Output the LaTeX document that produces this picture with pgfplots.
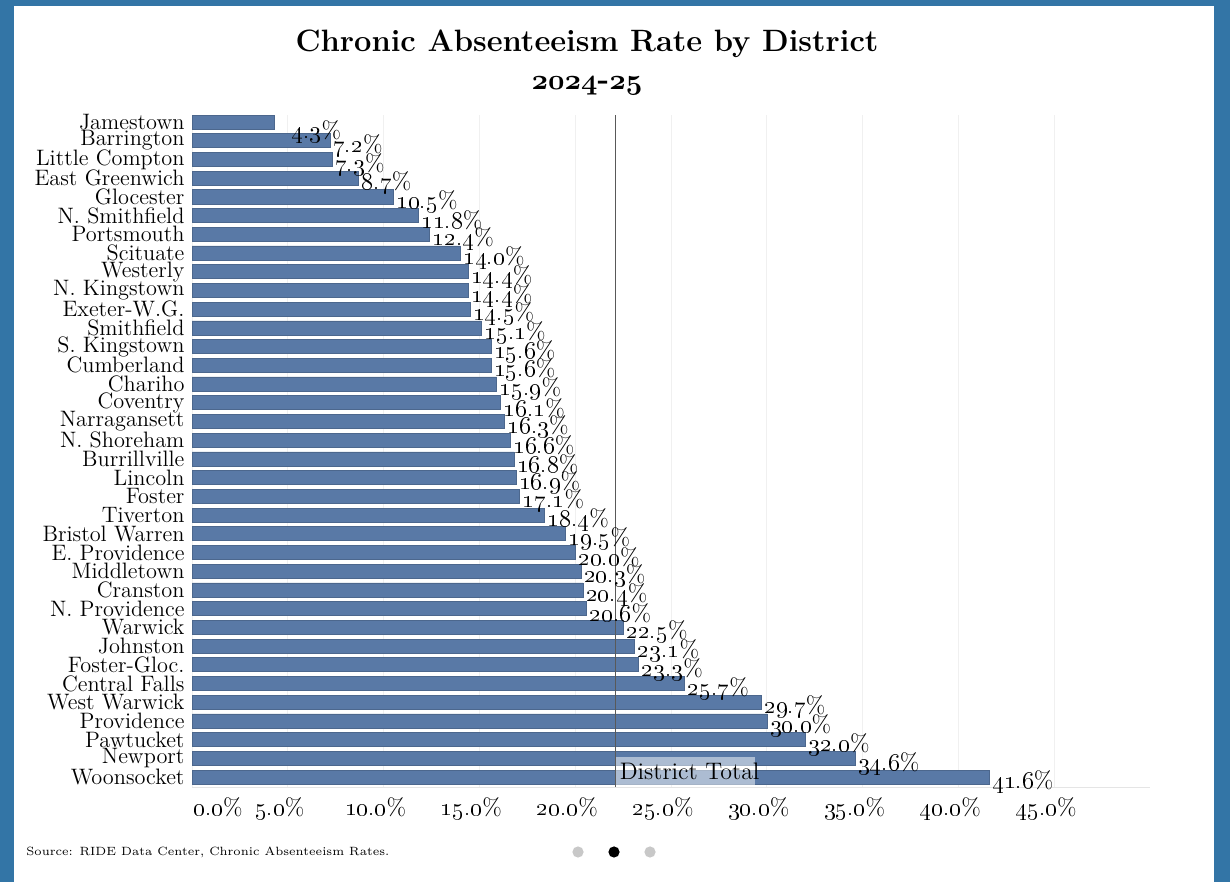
\documentclass[border=0pt]{standalone}
\usepackage{pgfplots}
\pgfplotsset{compat=1.18}
\definecolor{frameBlue}{RGB}{51,117,166}
\definecolor{barBlue}{RGB}{89,121,166}
\definecolor{dotGray}{RGB}{200,200,200}

\newcommand{\osn}[1]{\oldstylenums{#1}\%}
\newcommand{\bosn}[1]{{\usefont{OML}{cmm}{b}{it}#1}}

\begin{document}
\begin{tikzpicture}
    % frame of the card
    \fill[frameBlue] (0,0) rectangle (615bp,441bp);
    \fill[white] (7bp,0) rectangle (607bp,438bp);

    \node[font=\fontsize{15.5}{18}\selectfont\bfseries] at (293.5bp,419bp) {Chronic Absenteeism Rate by District};
    \node[font=\fontsize{15.5}{18}\selectfont\bfseries] at (293.5bp,398bp) {\bosn{2024}-\bosn{25}};

    \begin{axis}[
        at={(96bp,47.5bp)},
        anchor=south west,
        scale only axis,
        width=479bp,
        height=336bp,
        xbar,
        bar width=0.75,
        bar shift=0pt,
        xmin=0, xmax=50,
        ymin=-0.37, ymax=35.53,
        y dir=reverse,
        ytick={0,...,35},
        yticklabels={Jamestown, Barrington, Little Compton, East Greenwich, Glocester,
            N. Smithfield, Portsmouth, Scituate, Westerly, N. Kingstown, Exeter-W.G.,
            Smithfield, S. Kingstown, Cumberland, Chariho, Coventry, Narragansett,
            N. Shoreham, Burrillville, Lincoln, Foster, Tiverton, Bristol Warren,
            E. Providence, Middletown, Cranston, N. Providence, Warwick, Johnston,
            Foster-Gloc., Central Falls, West Warwick, Providence, Pawtucket,
            Newport, Woonsocket},
        xtick={0,5,...,45},
        xticklabels={\hspace*{34bp}\osn{0.0}, \osn{5.0}, \osn{10.0}, \osn{15.0},
            \osn{20.0}, \osn{25.0}, \osn{30.0}, \osn{35.0}, \osn{40.0}, \osn{45.0}},
        xticklabel style={font=\fontsize{12}{12}\selectfont, xshift=-4bp, yshift=-2bp},
        yticklabel style={font=\fontsize{11.2}{12}\selectfont},
        yticklabel shift=-4bp,
        tick style={draw=none},
        xmajorgrids=true,
        grid style={gray!12},
        axis x line*=bottom,
        axis y line*=left,
        x axis line style={gray!20},
        y axis line style={draw=none},
        clip=false,
        point meta=explicit symbolic,
        nodes near coords={\osn{\pgfplotspointmeta}},
        nodes near coords style={font=\fontsize{12}{12}\selectfont, anchor=west,
            inner sep=1bp, xshift=0.5bp, yshift=-2.5bp},
    ]
    % Jamestown, with its label set off below the bar
    \addplot[fill=barBlue, draw=barBlue!85!black, line width=0.3pt,
        nodes near coords style={xshift=7bp, yshift=-2.5bp}]
        coordinates {(4.3,0) [4.3]};
    \addplot[fill=barBlue, draw=barBlue!85!black, line width=0.3pt] coordinates {
        (7.2,1) [7.2]
        (7.3,2) [7.3]
        (8.7,3) [8.7]
        (10.5,4) [10.5]
        (11.8,5) [11.8]
        (12.4,6) [12.4]
        (14.0,7) [14.0]
        (14.4,8) [14.4]
        (14.4,9) [14.4]
        (14.5,10) [14.5]
        (15.1,11) [15.1]
        (15.6,12) [15.6]
        (15.6,13) [15.6]
        (15.9,14) [15.9]
        (16.1,15) [16.1]
        (16.3,16) [16.3]
        (16.6,17) [16.6]
        (16.8,18) [16.8]
        (16.9,19) [16.9]
        (17.1,20) [17.1]
        (18.4,21) [18.4]
        (19.5,22) [19.5]
        (20.0,23) [20.0]
        (20.3,24) [20.3]
        (20.4,25) [20.4]
        (20.6,26) [20.6]
        (22.5,27) [22.5]
        (23.1,28) [23.1]
        (23.3,29) [23.3]
        (25.7,30) [25.7]
        (29.7,31) [29.7]
        (30.0,32) [30.0]
        (32.0,33) [32.0]
        (34.6,34) [34.6]
        (41.6,35) [41.6]
    };
    % district total reference line
    \addplot[xbar=0pt, sharp plot, draw=black!65, line width=0.8pt, nodes near coords={}]
        coordinates {(22.1,-0.37) (22.1,35.53)};
    \node[anchor=south west, fill=white, fill opacity=0.5, text opacity=1,
        font=\fontsize{12}{12}\selectfont, inner xsep=2bp, inner ysep=0pt,
        minimum height=14bp, yshift=0.8bp]
        at (axis cs:22.1,35.53) {\makebox[65.5bp][l]{District Total}};
    \end{axis}

    \node[anchor=west, inner sep=0pt, font=\fontsize{6}{8}\selectfont] at (13bp,15bp)
        {Source: RIDE Data Center, Chronic Absenteeism Rates.};
    \fill[dotGray] (289bp,15bp) circle (2.8bp);
    \fill[black] (307bp,15bp) circle (2.8bp);
    \fill[dotGray] (325bp,15bp) circle (2.8bp);

    \pgfresetboundingbox
    \path[use as bounding box] (0,0) rectangle (615bp,441bp);
\end{tikzpicture}
\end{document}
